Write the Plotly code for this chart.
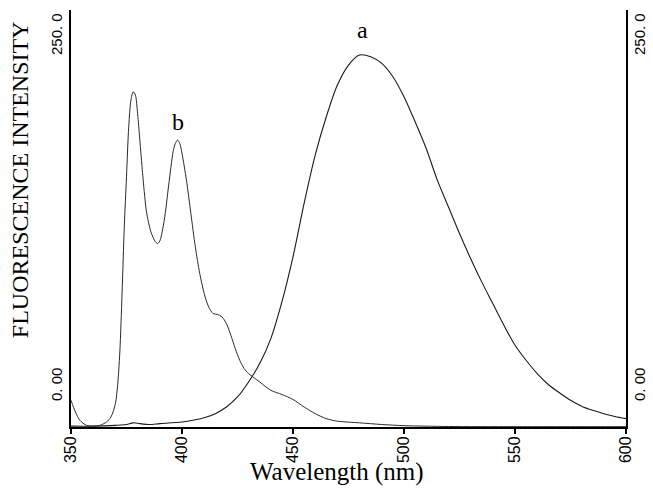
import plotly.graph_objects as go

# Curve a (long-wavelength emission)
wl_a = [350, 360, 370, 375, 378, 381, 385, 390, 400, 405, 410, 415, 420, 425, 430, 435,
        440, 445, 450, 455, 460, 465, 470, 475, 480, 485, 490, 495, 500, 505, 510, 515,
        520, 525, 530, 535, 540, 545, 550, 555, 560, 565, 570, 575, 580, 585, 590, 595, 600]
int_a = [0.5, 0.5, 1, 1.5, 2.5, 2, 1.5, 2, 3, 4, 5.5, 8, 12, 18, 27, 38,
         53, 75, 102, 134, 163, 186, 205, 217, 223, 222, 218, 210, 198, 183, 167, 148,
         132, 116, 101, 87, 74, 61, 49, 40, 32, 25.5, 20.5, 16, 12.5, 10, 8, 6.3, 5]

# Curve b (structured short-wavelength emission)
wl_b = [350, 352, 354, 357, 360, 363, 366, 368, 370, 371, 372, 373, 374, 375, 376, 377,
        378, 379, 380, 381, 382, 383, 384, 386, 388, 389, 390, 392, 394, 396, 397, 398,
        399, 400, 402, 404, 406, 408, 410, 412, 414, 416, 418, 420, 422, 424, 426, 428,
        430, 432, 435, 440, 445, 450, 455, 460, 465, 470, 480, 490, 500, 520, 550, 600]
int_b = [16, 9, 4, 1, 0.5, 1, 3, 6, 14, 25, 45, 80, 120, 150, 180, 196,
         201, 199, 188, 172, 156, 141, 129, 117, 111, 110, 111.5, 124, 145, 165, 170, 172,
         170, 164, 148, 128, 108, 92, 80, 72, 68, 67.5, 66, 62, 55, 47, 40, 35,
         32, 30, 27, 22, 19.5, 16.5, 12, 8, 5, 3.5, 2.5, 1.5, 0.8, 0.3, 0.2, 0.2]

x_ticks = [350, 400, 450, 500, 550, 600]
y_tick_labels = ["0. 00", "250. 0"]
y_tick_vals = [0, 250]
curve_labels = ["a", "b"]
label_pos = [(481.5, 238), (398, 183)]

serif = "Liberation Serif, Times New Roman, serif"
sans = "Liberation Sans, Arial, sans-serif"

fig = go.Figure()
fig.add_trace(go.Scatter(x=wl_a, y=int_a, mode="lines", line=dict(color="#1a1a1a", width=1.1, shape="spline", smoothing=0.8),
                         showlegend=False, hoverinfo="skip"))
fig.add_trace(go.Scatter(x=wl_b, y=int_b, mode="lines", line=dict(color="#2a2a2a", width=1.0, shape="spline", smoothing=0.8),
                         showlegend=False, hoverinfo="skip"))

annotations = []
for txt, (xv, yv) in zip(curve_labels, label_pos):
    annotations.append(dict(x=xv, y=yv, xref="x", yref="y", text=txt, showarrow=False,
                            font=dict(family=serif, size=24, color="black"), xanchor="center", yanchor="middle"))

# y tick labels, left and right, rotated
for txt, yv, ydy in zip(y_tick_labels, y_tick_vals, [42, -24]):
    for xp, xs in [(0, -15), (1, 13)]:
        annotations.append(dict(x=xp, y=yv, xref="paper", yref="y", text=txt, showarrow=False, textangle=-90,
                                font=dict(family=sans, size=15, color="black"),
                                xanchor="center", yanchor="middle", xshift=xs, yshift=ydy,
                                borderpad=0))

# axis titles
annotations.append(dict(x=0, y=0.592, xref="paper", yref="paper", text="FLUORESCENCE INTENSITY", showarrow=False,
                        textangle=-90, font=dict(family=serif, size=24, color="black"),
                        xanchor="center", yanchor="middle", xshift=-51))
annotations.append(dict(x=0.5, y=0, xref="paper", yref="paper", text="Wavelength (nm)", showarrow=False,
                        font=dict(family=serif, size=25, color="black"),
                        xanchor="center", yanchor="middle", yshift=-45, xshift=-12))

fig.update_layout(
    width=653, height=493,
    margin=dict(l=71, r=27, t=10, b=66),
    plot_bgcolor="white", paper_bgcolor="white",
    annotations=annotations,
    xaxis=dict(range=[350, 600], tickvals=x_ticks, ticktext=[str(v) for v in x_ticks],
               tickangle=-90, ticks="outside", ticklen=5, tickwidth=1.5, tickcolor="black",
               ticklabelstandoff=-4,
               showline=True, linecolor="black", linewidth=2, showgrid=False, zeroline=False,
               tickfont=dict(family=sans, size=16, color="black")),
    yaxis=dict(range=[0, 250], showticklabels=False, ticks="", showline=True, mirror=True,
               linecolor="black", linewidth=2, showgrid=False, zeroline=False),
)

fig.write_html("out.html", config={"displayModeBar": False},
               post_script="document.body.style.margin='0';")
